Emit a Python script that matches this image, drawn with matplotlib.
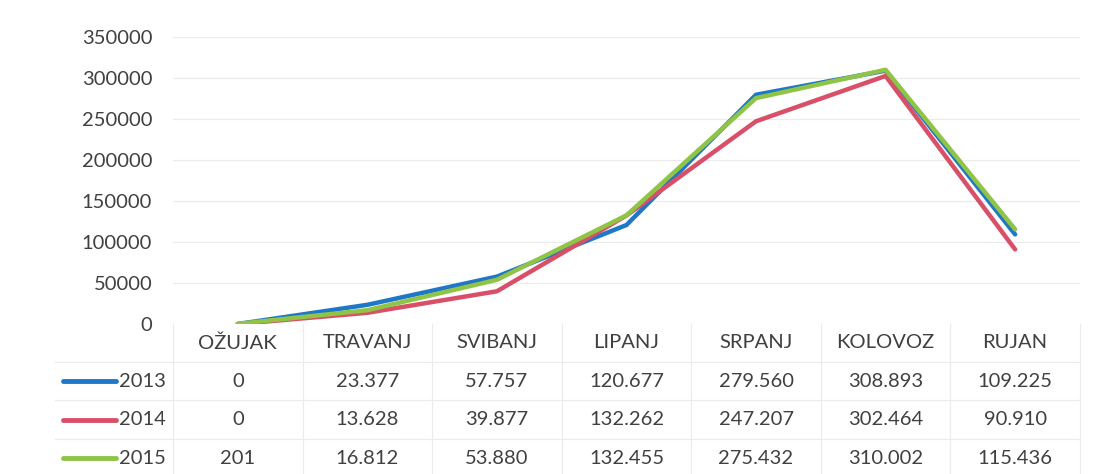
import numpy as np
import matplotlib.pyplot as plt
from matplotlib.lines import Line2D

months = ['OŽUJAK', 'TRAVANJ', 'SVIBANJ', 'LIPANJ', 'SRPANJ', 'KOLOVOZ', 'RUJAN']
years = ['2013', '2014', '2015']
v2013 = [0, 23377, 57757, 120677, 279560, 308893, 109225]
v2014 = [0, 13628, 39877, 132262, 247207, 302464, 90910]
v2015 = [201, 16812, 53880, 132455, 275432, 310002, 115436]
colors = ['#1f77c8', '#d94f68', '#8fc447']

plt.rcParams['font.family'] = ['Lato', 'DejaVu Sans']

fig = plt.figure(figsize=(10.93, 4.74), dpi=100)
ax = fig.add_axes([0.1583, 0.3165, 0.8297, 0.6055])

x = np.arange(len(months))
series = [v2013, v2014, v2015]
for vals, c in zip(series, colors):
    ax.plot(x, vals, color=c, lw=3.2, solid_capstyle='round', solid_joinstyle='round')

ax.set_xlim(-0.5, len(months) - 0.5)
ax.set_ylim(0, 350000)
ax.set_yticks(np.arange(0, 350001, 50000))
ax.set_yticklabels([str(t) for t in range(0, 350001, 50000)], fontsize=14.5, color='#404040')
ax.tick_params(axis='y', length=0, pad=15)
ax.set_xticks([])
ax.grid(axis='y', color='#ebebeb', lw=0.8)
for s in ax.spines.values():
    s.set_visible(False)

def fmt(v):
    return f'{v:,}'.replace(',', '.')

# data table under the plot
row_y = [-0.066, -0.199, -0.334, -0.467]  # axes fraction
trans = ax.get_xaxis_transform()
for i, m in enumerate(months):
    ax.text(i, row_y[0], m, ha='center', va='center', fontsize=14.5, color='#404040',
            transform=trans, clip_on=False)
for r, (vals, c, yr) in enumerate(zip(series, colors, years)):
    y = row_y[r + 1]
    for i, v in enumerate(vals):
        ax.text(i, y, fmt(v), ha='center', va='center', fontsize=14.5, color='#404040',
                transform=trans, clip_on=False)
    fy = 0.3165 + 0.6055 * y
    fig.add_artist(Line2D([0.058, 0.106], [fy, fy], color=c, lw=3.5,
                          solid_capstyle='round', transform=fig.transFigure))
    fig.text(0.109, fy, yr, ha='left', va='center', fontsize=14.5, color='#404040')

# faint table borders
for i in range(len(months) + 1):
    ax.plot([i - 0.5, i - 0.5], [0, -0.52], color='#ebebeb', lw=0.8,
            transform=trans, clip_on=False)
for yb in [-0.132, -0.266, -0.40]:
    fig.add_artist(Line2D([0.05, 0.988], [0.3165 + 0.6055 * yb] * 2, color='#ebebeb',
                          lw=0.8, transform=fig.transFigure))

fig.savefig('out.png', dpi=100)
